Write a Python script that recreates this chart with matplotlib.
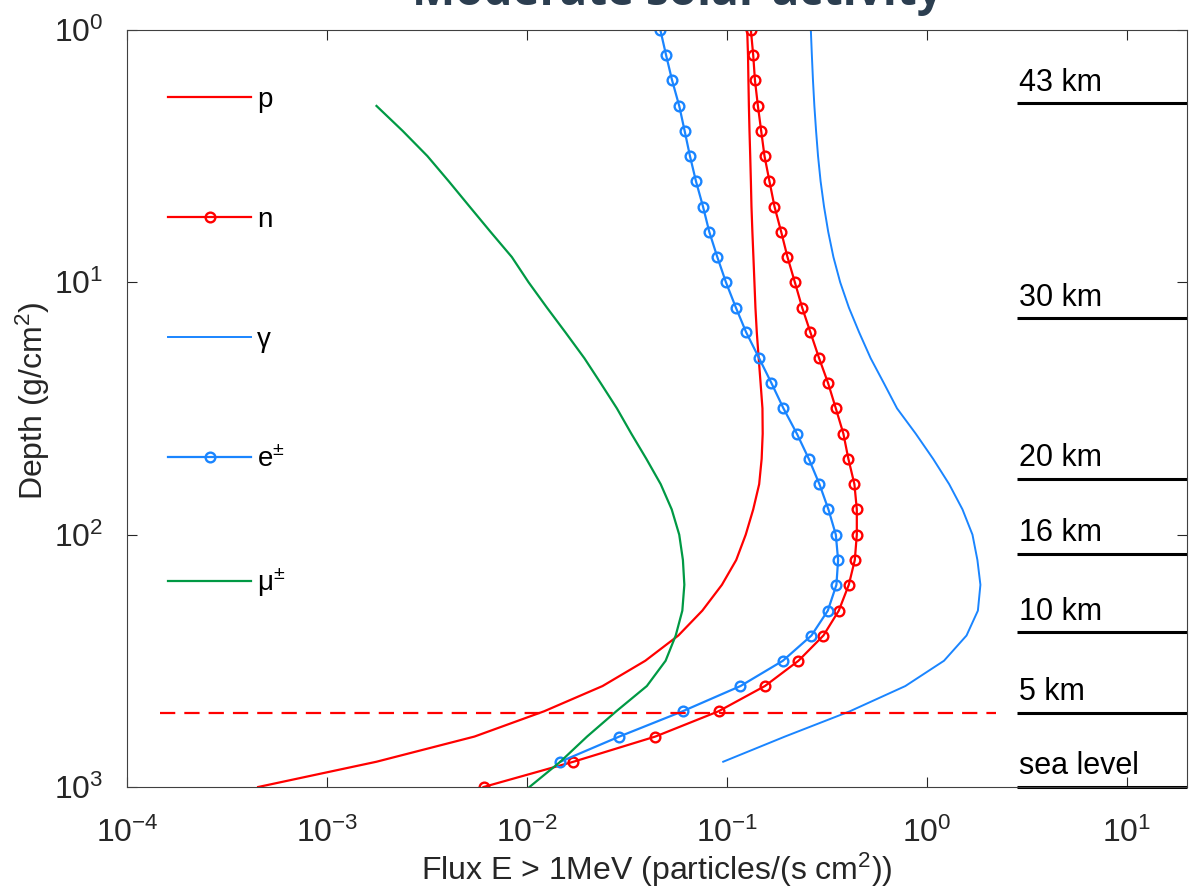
import matplotlib
matplotlib.use("Agg")
import matplotlib.pyplot as plt

# profundidade atmosferica (g/cm2), passo de 0.1 decada
profundidade = [1, 1.26, 1.58, 2.0, 2.51, 3.16, 3.98, 5.01, 6.31, 7.94,
                10, 12.6, 15.8, 20.0, 25.1, 31.6, 39.8, 50.1, 63.1, 79.4,
                100, 126, 158, 200, 251, 316, 398, 501, 631, 794, 1000]

# fluxo E > 1 MeV para cada particula
fluxo_p = [0.1264, 0.1276, 0.1282, 0.1289, 0.1298, 0.1309, 0.1319, 0.1328,
           0.1342, 0.1358, 0.1374, 0.1390, 0.1412, 0.1443, 0.1475, 0.1507,
           0.1511, 0.1493, 0.1451, 0.1355, 0.1243, 0.1114, 0.0945, 0.0754,
           0.0572, 0.0391, 0.0239, 0.0122, 0.00547, 0.00177, 0.000453]
fluxo_n = [0.1319, 0.1355, 0.1382, 0.1430, 0.1485, 0.1543, 0.1634, 0.1731,
           0.1870, 0.2010, 0.2189, 0.2381, 0.2619, 0.2894, 0.3210, 0.3508,
           0.3827, 0.4054, 0.4345, 0.4467, 0.4467, 0.4365, 0.4073, 0.3630,
           0.3041, 0.2281, 0.1550, 0.0909, 0.0439, 0.0171, 0.00607]
fluxo_gama = [0.2631, 0.2662, 0.2696, 0.2740, 0.2794, 0.2858, 0.2944, 0.3062,
              0.3214, 0.3412, 0.3689, 0.4078, 0.4590, 0.5240, 0.6100, 0.7099,
              0.8804, 1.076, 1.294, 1.508, 1.692, 1.791, 1.854, 1.801,
              1.580, 1.219, 0.7811, 0.4125, 0.1953, 0.0959]
fluxo_e = [0.0465, 0.0497, 0.0532, 0.0578, 0.0615, 0.0654, 0.0701, 0.0760,
           0.0817, 0.0896, 0.0990, 0.1110, 0.1250, 0.1451, 0.1672, 0.1920,
           0.2240, 0.2571, 0.2905, 0.3221, 0.3508, 0.3601, 0.3532, 0.3199,
           0.2649, 0.1906, 0.1170, 0.0601, 0.0290, 0.0147]
# muons comecam em 2 g/cm2
fluxo_mu = [0.00177, 0.00239, 0.00318, 0.00407, 0.00517, 0.00658, 0.00841,
            0.0102, 0.0126, 0.0156, 0.0194, 0.0234, 0.0282, 0.0333, 0.0396,
            0.0467, 0.0530, 0.0578, 0.0603, 0.0613, 0.0599, 0.0555, 0.0494,
            0.0398, 0.0280, 0.0200, 0.0147, 0.0103]

# altitudes de referencia
altitudes = ["43 km", "30 km", "20 km", "16 km", "10 km", "5 km", "sea level"]
prof_altitudes = [1.95, 13.9, 60, 119, 244, 508, 1000]

plt.rcParams['font.family'] = ['Liberation Sans', 'DejaVu Sans']
plt.rcParams['mathtext.fontset'] = 'custom'
plt.rcParams['mathtext.rm'] = 'Liberation Sans'
plt.rcParams['mathtext.it'] = 'Liberation Sans:italic'
plt.rcParams['mathtext.default'] = 'regular'
plt.rcParams['lines.scale_dashes'] = False

VERMELHO = '#ff0000'
AZUL = '#1a85ff'
VERDE = '#009944'

fig = plt.figure(figsize=(11.91, 8.92), dpi=100)
ax = fig.add_axes([0.1066, 0.1177, 0.89, 0.8487])

ax.plot(fluxo_p, profundidade, color=VERMELHO, lw=1.6, label='p')
ax.plot(fluxo_n, profundidade, color=VERMELHO, lw=1.6, marker='o', ms=7,
        mfc='none', mew=1.7, label='n')
ax.plot(fluxo_gama, profundidade[:30], color=AZUL, lw=1.4, label='γ')
ax.plot(fluxo_e, profundidade[:30], color=AZUL, lw=1.6, marker='o', ms=7,
        mfc='none', mew=1.7, label='e$^{\\pm}$')
ax.plot(fluxo_mu, profundidade[3:], color=VERDE, lw=1.6, label='μ$^{\\pm}$')

# linha tracejada em 5 km
ax.plot([1.46e-4, 2.22], [prof_altitudes[5], prof_altitudes[5]],
        color=VERMELHO, lw=1.6, ls='--', dashes=(11, 6.5))

for nome, d in zip(altitudes, prof_altitudes):
    ax.plot([2.83, 20], [d, d], color='black', lw=2.2, clip_on=False,
            solid_capstyle='butt')
    ax.annotate(nome, xy=(2.89, d), xytext=(0, 4), textcoords='offset points',
                ha='left', va='bottom', fontsize=22)

ax.set_xscale('log')
ax.set_yscale('log')
ax.set_xlim(1e-4, 20)
ax.set_ylim(1000, 1)
ax.minorticks_off()
ax.tick_params(which='both', direction='in', top=True, right=True,
               length=7, width=0.8, labelsize=23, colors='#262626')
ax.tick_params(axis='x', pad=22)
ax.tick_params(axis='y', pad=17)
for s in ax.spines.values():
    s.set_color('#404040')
    s.set_linewidth(0.8)

ax.set_xlabel('Flux E > 1MeV (particles/(s cm$^2$))', fontsize=23,
              color='#262626', labelpad=1)
ax.set_ylabel('Depth (g/cm$^2$)', fontsize=23, color='#262626')
ax.yaxis.set_label_coords(-0.071, 0.51)

leg = ax.legend(loc='upper left', bbox_to_anchor=(0.015, 0.958), frameon=False,
                fontsize=20, handlelength=3.0, handletextpad=0.2,
                labelspacing=3.38, numpoints=1)

fig.text(0.569, 0.994, 'Moderate solar activity', ha='center', va='baseline',
         fontsize=33, fontweight='bold', color='#2c3e50',
         family=['Open Sans', 'DejaVu Sans'])

fig.savefig('out.png', dpi=100)
